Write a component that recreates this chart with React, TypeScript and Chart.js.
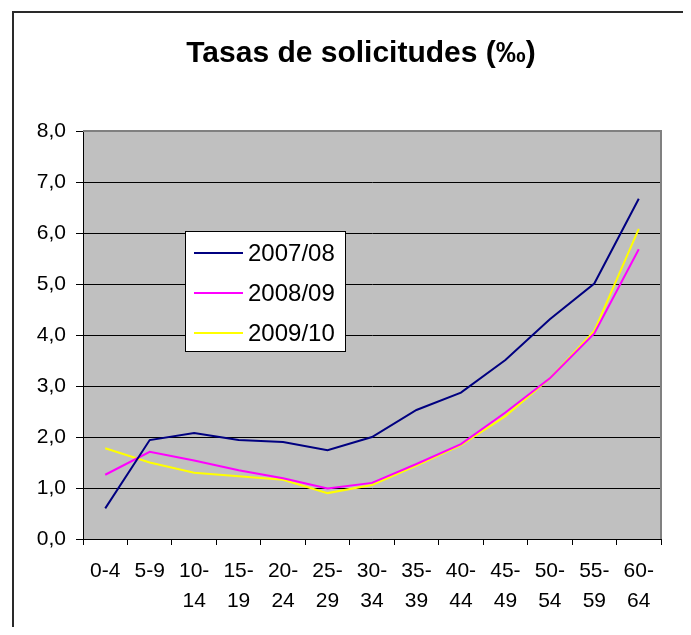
import React, { useEffect, useRef } from "react";
import { Chart, registerables } from "chart.js";

Chart.register(...registerables);

const titleText = "Tasas de solicitudes (‰)";
const ageGroups = ["0-4", "5-9", "10-14", "15-19", "20-24", "25-29", "30-34", "35-39", "40-44", "45-49", "50-54", "55-59", "60-64"];
const seriesNames = ["2007/08", "2008/09", "2009/10"];
const rates0708 = [0.6, 1.94, 2.08, 1.94, 1.9, 1.74, 2.0, 2.53, 2.87, 3.51, 4.31, 5.01, 6.67];
const rates0809 = [1.26, 1.71, 1.54, 1.35, 1.19, 0.99, 1.1, 1.47, 1.86, 2.48, 3.15, 4.03, 5.68];
const rates0910 = [1.78, 1.5, 1.3, 1.23, 1.16, 0.9, 1.06, 1.44, 1.84, 2.41, 3.15, 4.08, 6.08];
const seriesColors = ["#000080", "#FF00FF", "#FFFF00"];
const yMin = 0;
const yMax = 8;
const yStep = 1;

const FONT = "'Liberation Sans', Arial, sans-serif";

const tickLabels = ageGroups.map((g) => {
  const [a, b] = g.split("-");
  return a.length > 1 ? [a + "-", b] : g;
});

const decorPlugin = {
  id: "decor",
  beforeDraw(chart: any) {
    const { ctx, chartArea } = chart;
    ctx.save();
    ctx.fillStyle = "#ffffff";
    ctx.fillRect(0, 0, chart.width, chart.height);
    ctx.fillStyle = "#C0C0C0";
    ctx.fillRect(chartArea.left, chartArea.top, chartArea.right - chartArea.left, chartArea.bottom - chartArea.top);
    // outer chart frame
    ctx.strokeStyle = "#2a2a2a";
    ctx.lineWidth = 2;
    ctx.strokeRect(5, 4, 2000, 2000);
    // title
    ctx.fillStyle = "#000";
    ctx.font = `bold 30px ${FONT}`;
    ctx.textAlign = "center";
    ctx.textBaseline = "alphabetic";
    ctx.fillText(titleText, 353, 54);
    ctx.restore();
  },
  afterDraw(chart: any) {
    const { ctx, chartArea } = chart;
    ctx.save();
    // plot frame (top and right)
    ctx.strokeStyle = "#808080";
    ctx.lineWidth = 2;
    ctx.beginPath();
    ctx.moveTo(chartArea.left, chartArea.top);
    ctx.lineTo(chartArea.right, chartArea.top);
    ctx.lineTo(chartArea.right, chartArea.bottom);
    ctx.stroke();
    // legend
    const bx = 177.5, by = 223.5, bw = 160, bh = 120;
    ctx.fillStyle = "#fff";
    ctx.fillRect(bx, by, bw, bh);
    ctx.strokeStyle = "#000";
    ctx.lineWidth = 1;
    ctx.strokeRect(bx, by, bw, bh);
    ctx.font = `24px ${FONT}`;
    ctx.textAlign = "left";
    ctx.textBaseline = "middle";
    chart.data.datasets.forEach((ds: any, i: number) => {
      const y = 245 + i * 40;
      ctx.strokeStyle = ds.borderColor;
      ctx.lineWidth = 2;
      ctx.beginPath();
      ctx.moveTo(186, y);
      ctx.lineTo(235, y);
      ctx.stroke();
      ctx.fillStyle = "#000";
      ctx.fillText(ds.label, 240, y + 1);
    });
    ctx.restore();
  },
};

export default function App() {
  const ref = useRef<HTMLCanvasElement>(null);
  useEffect(() => {
    const canvas = ref.current!;
    const seriesValues = [rates0708, rates0809, rates0910];
    const chart = new Chart(canvas, {
      type: "line",
      data: {
        labels: tickLabels as any,
        datasets: seriesNames.map((name, i) => ({
          label: name,
          data: seriesValues[i],
          borderColor: seriesColors[i],
          backgroundColor: seriesColors[i],
          borderWidth: 2,
          pointRadius: 0,
          tension: 0,
          fill: false,
        })),
      },
      options: {
        responsive: false,
        animation: false,
        devicePixelRatio: 1,
        layout: { padding: { top: 123, right: 30, left: 0, bottom: 0 } },
        plugins: {
          legend: { display: false },
          title: { display: false },
          tooltip: { enabled: false },
        },
        scales: {
          x: {
            offset: true,
            grid: {
              offset: true,
              drawOnChartArea: false,
              drawTicks: true,
              tickLength: 6,
              color: "#000",
            },
            border: { display: true, color: "#000", width: 1 },
            ticks: {
              color: "#000",
              font: { family: FONT, size: 21, lineHeight: 1.43 },
              padding: 11,
              maxRotation: 0,
              autoSkip: false,
            },
            afterFit(scale: any) {
              scale.height = 96;
            },
          },
          y: {
            min: yMin,
            max: yMax,
            grid: {
              color: "#000",
              lineWidth: 1,
              tickLength: 7,
            },
            border: { display: true, color: "#000", width: 1 },
            ticks: {
              stepSize: yStep,
              color: "#000",
              font: { family: FONT, size: 21 },
              padding: 10,
              callback: (v: any) => Number(v).toFixed(1).replace(".", ","),
            },
            afterFit(scale: any) {
              scale.width = 75;
            },
          },
        },
      },
      plugins: [decorPlugin],
    });
    return () => chart.destroy();
  }, []);
  return (
    <div style={{ width: 683, height: 627, marginBottom: -8, overflow: "hidden" }}>
      <canvas ref={ref} width={683} height={627} style={{ display: "block", width: 683, height: 627 }} />
    </div>
  );
}
